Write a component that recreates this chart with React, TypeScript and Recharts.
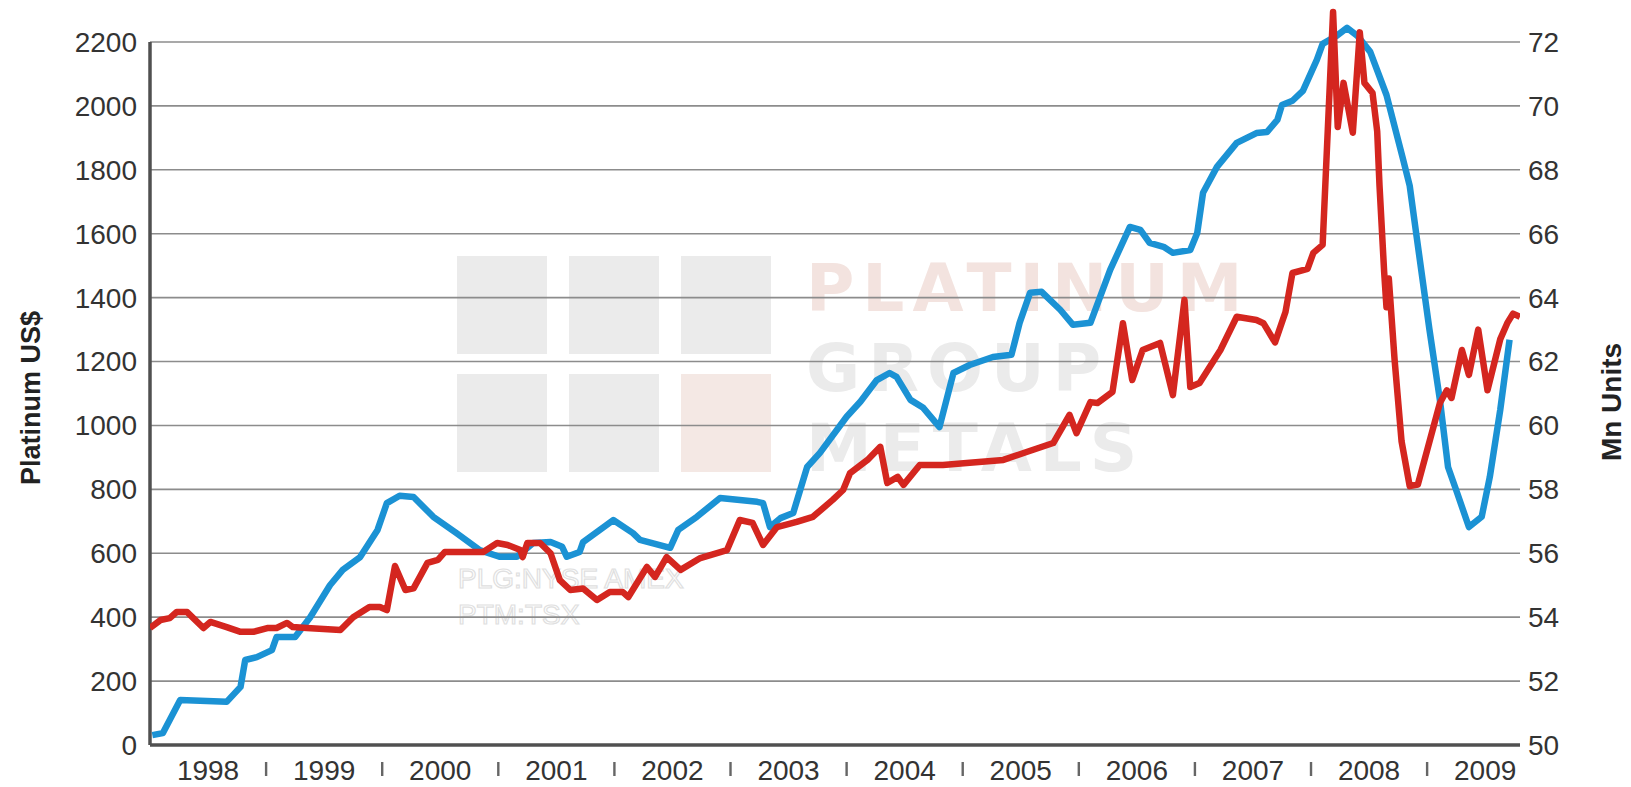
import React from 'react';
import {
  LineChart,
  Line,
  XAxis,
  YAxis,
  CartesianGrid,
  ReferenceLine,
} from 'recharts';

// Platinum price, US$ (left axis)
const platinumDates = [
  1998.02, 1998.11, 1998.26, 1998.66, 1998.78, 1998.82, 1998.92, 1999.05, 1999.09, 1999.25,
  1999.38, 1999.55, 1999.66, 1999.81, 1999.96, 2000.04, 2000.15, 2000.27, 2000.44, 2000.64,
  2000.84, 2001.01, 2001.16, 2001.3, 2001.45, 2001.55, 2001.59, 2001.7, 2001.73, 2001.99,
  2002.16, 2002.22, 2002.48, 2002.55, 2002.71, 2002.91, 2003.23, 2003.28, 2003.34, 2003.43,
  2003.54, 2003.66, 2003.77, 2004.0, 2004.12, 2004.26, 2004.37, 2004.43, 2004.55, 2004.66,
  2004.8, 2004.92, 2005.06, 2005.26, 2005.42, 2005.49, 2005.58, 2005.68, 2005.84, 2005.95,
  2006.1, 2006.27, 2006.44, 2006.53, 2006.61, 2006.73, 2006.81, 2006.96, 2007.02, 2007.07,
  2007.19, 2007.36, 2007.53, 2007.62, 2007.71, 2007.75, 2007.84, 2007.93, 2008.05, 2008.1,
  2008.22, 2008.31, 2008.4, 2008.51, 2008.65, 2008.79, 2008.85, 2008.91, 2009.02, 2009.11,
  2009.18, 2009.25, 2009.36, 2009.47, 2009.54, 2009.63, 2009.71,
];
const platinumPrices = [
  31, 37, 141, 135, 182, 266, 275, 297, 338, 338,
  400, 500, 548, 588, 673, 757, 780, 776, 714, 663,
  610, 589, 589, 632, 635, 620, 589, 604, 635, 704,
  663, 642, 617, 673, 714, 773, 761, 757, 682, 710,
  726, 870, 914, 1027, 1075, 1142, 1164, 1152, 1080, 1055,
  995, 1164, 1189, 1214, 1221, 1321, 1415, 1418, 1362, 1315,
  1321, 1487, 1621, 1612, 1571, 1559, 1540, 1549, 1602, 1728,
  1809, 1884, 1915, 1918, 1956, 2003, 2016, 2047, 2144, 2194,
  2219, 2244, 2219, 2169, 2034, 1837, 1750, 1590, 1300, 1080,
  870, 798, 682, 714, 839, 1049, 1268,
];

// Mn units (right axis)
const unitDates = [
  1998.0, 1998.09, 1998.17, 1998.23, 1998.32, 1998.46, 1998.52, 1998.66, 1998.78, 1998.89,
  1999.01, 1999.09, 1999.18, 1999.23, 1999.35, 1999.64, 1999.75, 1999.89, 1999.98, 2000.04,
  2000.11, 2000.2, 2000.27, 2000.39, 2000.48, 2000.54, 2000.87, 2000.99, 2001.08, 2001.19,
  2001.21, 2001.25, 2001.36, 2001.45, 2001.53, 2001.62, 2001.73, 2001.85, 2001.96, 2002.07,
  2002.12, 2002.28, 2002.35, 2002.45, 2002.57, 2002.74, 2002.97, 2003.08, 2003.19, 2003.28,
  2003.4, 2003.57, 2003.71, 2003.88, 2003.97, 2004.03, 2004.18, 2004.29, 2004.35, 2004.44,
  2004.49, 2004.63, 2004.83, 2005.06, 2005.35, 2005.55, 2005.78, 2005.92, 2005.98, 2006.1,
  2006.16, 2006.29, 2006.38, 2006.46, 2006.55, 2006.7, 2006.81, 2006.91, 2006.96, 2007.04,
  2007.22, 2007.36, 2007.53, 2007.59, 2007.69, 2007.78, 2007.84, 2007.97, 2008.02, 2008.1,
  2008.19, 2008.23, 2008.28, 2008.36, 2008.42, 2008.46, 2008.53, 2008.57, 2008.59, 2008.63,
  2008.65, 2008.67, 2008.72, 2008.78, 2008.85, 2008.92, 2009.11, 2009.17, 2009.21, 2009.3,
  2009.36, 2009.44, 2009.52, 2009.63, 2009.69, 2009.74, 2009.8,
];
const unitValues = [
  53.66, 53.91, 53.97, 54.16, 54.16, 53.66, 53.85, 53.69, 53.54, 53.54,
  53.66, 53.66, 53.82, 53.69, 53.66, 53.6, 54.0, 54.32, 54.32, 54.22,
  55.6, 54.85, 54.9, 55.7, 55.79, 56.04, 56.04, 56.32, 56.26, 56.1,
  55.88, 56.32, 56.32, 56.0, 55.16, 54.85, 54.9, 54.54, 54.79, 54.79,
  54.63, 55.57, 55.26, 55.88, 55.48, 55.85, 56.1, 57.04, 56.95, 56.26,
  56.82, 56.98, 57.14, 57.67, 57.98, 58.51, 58.92, 59.33, 58.2, 58.39,
  58.14, 58.76, 58.76, 58.83, 58.92, 59.17, 59.45, 60.33, 59.76, 60.73,
  60.7, 61.05, 63.2, 61.42, 62.36, 62.58, 60.95, 63.93, 61.2, 61.33,
  62.36, 63.4, 63.3, 63.2, 62.6, 63.55, 64.77, 64.9, 65.4, 65.65,
  72.94, 69.34, 70.72, 69.16, 72.3, 70.72, 70.4, 69.2, 67.5, 64.8,
  63.7, 64.6, 62.05, 59.5, 58.1, 58.15, 60.7, 61.1, 60.86, 62.36,
  61.58, 63.0, 61.1, 62.7, 63.2, 63.5, 63.4,
];

const yearLabels = [1998, 1999, 2000, 2001, 2002, 2003, 2004, 2005, 2006, 2007, 2008, 2009];
const yearMarks = [1999, 2000, 2001, 2002, 2003, 2004, 2005, 2006, 2007, 2008, 2009];
const leftTicks = [0, 200, 400, 600, 800, 1000, 1200, 1400, 1600, 1800, 2000, 2200];
const rightTicks = [50, 52, 54, 56, 58, 60, 62, 64, 66, 68, 70, 72];

const platinumData = platinumDates.map((t, i) => ({ t, v: platinumPrices[i] }));
const unitData = unitDates.map((t, i) => ({ t, v: unitValues[i] }));
const xTicks = [...yearLabels.map((y) => y + 0.5), ...yearMarks].sort((a, b) => a - b);

const FONT = '"Liberation Sans", Arial, sans-serif';

function YearTick(props: any) {
  const { x, y, payload } = props;
  const v = payload.value;
  if (Number.isInteger(v)) {
    return <rect x={x - 1.2} y={y + 9} width={2.4} height={14} fill="#666" />;
  }
  return (
    <text x={x} y={y + 27} textAnchor="middle" fontSize={28} fill="#333" fontFamily={FONT}>
      {Math.floor(v)}
    </text>
  );
}

function Watermark() {
  const sq = { position: 'absolute' as const, width: 90, height: 98, background: '#ebebeb' };
  const big = { fontSize: 66, fontWeight: 700, fontFamily: '"DejaVu Sans", sans-serif', letterSpacing: 8 };
  return (
    <div style={{ position: 'absolute', left: 0, top: 0, width: 1631, height: 787 }}>
      <div style={{ ...sq, left: 457, top: 256 }} />
      <div style={{ ...sq, left: 569, top: 256 }} />
      <div style={{ ...sq, left: 681, top: 256 }} />
      <div style={{ ...sq, left: 457, top: 374 }} />
      <div style={{ ...sq, left: 569, top: 374 }} />
      <div style={{ ...sq, left: 681, top: 374, background: '#f4e8e4' }} />
      <svg width={1631} height={787} style={{ position: 'absolute', left: 0, top: 0 }}>
        <text x={806} y={311} fill="#f3e3df" {...big}>PLATINUM</text>
        <text x={806} y={391} fill="#ebebeb" {...big}>GROUP</text>
        <text x={806} y={471} fill="#ebebeb" {...big}>METALS</text>
        <text x={458} y={588} fontSize={28} fill="none" stroke="#e0e0e0" strokeWidth={1.2} fontFamily={FONT}>PLG:NYSE AMEX</text>
        <text x={458} y={624} fontSize={28} fill="none" stroke="#e0e0e0" strokeWidth={1.2} fontFamily={FONT}>PTM:TSX</text>
      </svg>
    </div>
  );
}

export default function App() {
  return (
    <div style={{ position: 'absolute', left: 0, top: 0, width: 1631, height: 787, background: '#fff', fontFamily: FONT }}>
      <Watermark />
      <div style={{ position: 'absolute', left: 0, top: 0 }}>
        <LineChart width={1631} height={787} margin={{ top: 10, right: 31, bottom: 0, left: 60 }}>
          <CartesianGrid
            yAxisId="left"
            vertical={false}
            syncWithTicks
            stroke="#8c8c8c"
            strokeWidth={1.6}
          />
          <XAxis
            dataKey="t"
            type="number"
            domain={[1998, 2009.8]}
            ticks={xTicks}
            interval={0}
            allowDataOverflow
            height={42}
            tickLine={false}
            axisLine={{ stroke: '#505050', strokeWidth: 3.5 }}
            tick={(p: any) => <YearTick {...p} />}
          />
          <YAxis
            yAxisId="left"
            domain={[0, 2300]}
            ticks={leftTicks}
            interval={0}
            width={90}
            axisLine={false}
            tickLine={false}
            tickMargin={7}
            tick={{ fill: '#333', fontSize: 28, fontFamily: FONT }}
          />
          <YAxis
            yAxisId="right"
            orientation="right"
            domain={[50, 73]}
            ticks={rightTicks}
            interval={0}
            width={80}
            axisLine={false}
            tickLine={false}
            tickMargin={2}
            tick={{ fill: '#333', fontSize: 28, fontFamily: FONT }}
          />
          <ReferenceLine
            yAxisId="left"
            segment={[{ x: 1998, y: 0 }, { x: 1998, y: 2200 }]}
            stroke="#505050"
            strokeWidth={3.5}
          />
          <Line
            yAxisId="left"
            data={platinumData}
            dataKey="v"
            stroke="#1b92d4"
            strokeWidth={6.5}
            dot={false}
            strokeLinejoin="round"
            isAnimationActive={false}
          />
          <Line
            yAxisId="right"
            data={unitData}
            dataKey="v"
            stroke="#d4261f"
            strokeWidth={6.5}
            dot={false}
            strokeLinejoin="round"
            isAnimationActive={false}
          />
        </LineChart>
      </div>
      <div
        style={{
          position: 'absolute',
          left: 31,
          top: 398,
          transform: 'translate(-50%, -50%) rotate(-90deg)',
          fontSize: 27,
          fontWeight: 700,
          color: '#222',
          whiteSpace: 'nowrap',
        }}
      >
        Platinum US$
      </div>
      <div
        style={{
          position: 'absolute',
          left: 1612,
          top: 402,
          transform: 'translate(-50%, -50%) rotate(-90deg)',
          fontSize: 28,
          fontWeight: 700,
          color: '#222',
          whiteSpace: 'nowrap',
        }}
      >
        Mn Units
      </div>
    </div>
  );
}
